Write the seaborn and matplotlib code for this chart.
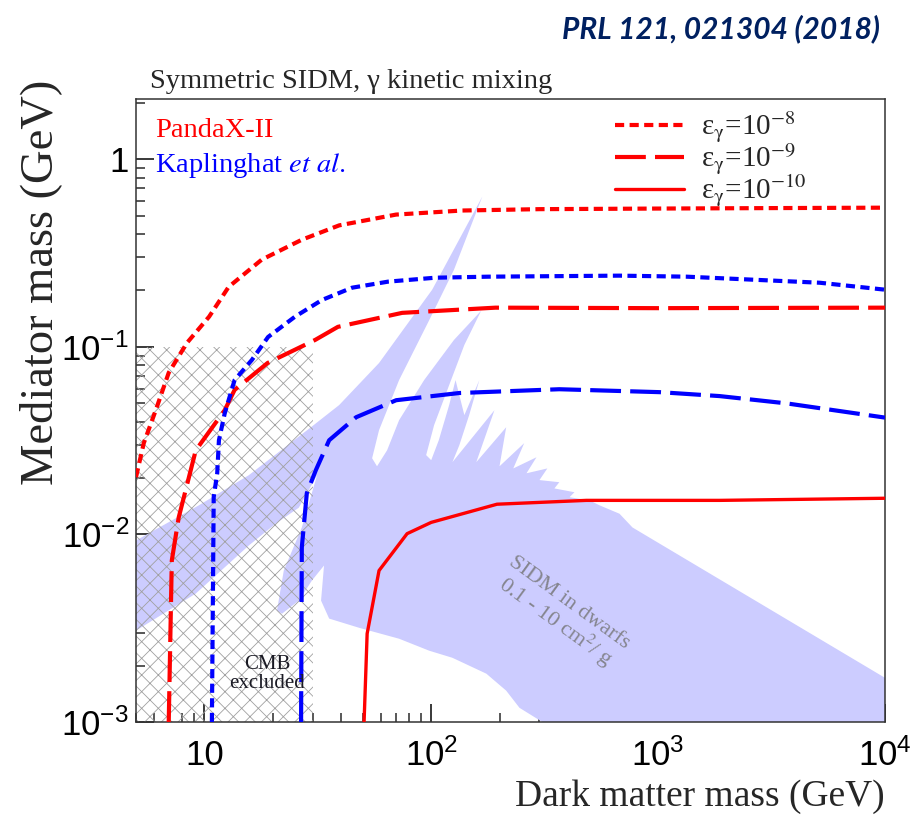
import matplotlib
matplotlib.use("Agg")
import numpy as np
import pandas as pd
import seaborn as sns
import matplotlib.pyplot as plt
from matplotlib.lines import Line2D
from matplotlib.font_manager import FontProperties
from matplotlib.ticker import FixedLocator, FixedFormatter, LogLocator, NullFormatter

# ---- PandaX-II exclusion contours (dark matter mass [GeV], mediator mass [GeV]) ----
panda_eps8_x = [5.0, 5.41, 6.11, 6.97, 8.38, 10.5, 12.8, 17.9, 26.9, 39.3, 70.0, 137, 300, 1000, 3000, 10000]
panda_eps8_y = [0.0202, 0.0307, 0.046, 0.0729, 0.105, 0.145, 0.209, 0.292, 0.373, 0.445, 0.508, 0.534, 0.543, 0.547, 0.550, 0.553]

panda_eps9_x = [6.97, 7.19, 7.71, 9.17, 12.3, 13.6, 19.0, 30.8, 38.8, 74.5, 192, 1000, 10000]
panda_eps9_y = [0.001, 0.00726, 0.0123, 0.0281, 0.0460, 0.0590, 0.0821, 0.109, 0.128, 0.152, 0.162, 0.161, 0.162]

panda_eps10_x = [50.6, 52.2, 58.9, 78.3, 100, 195, 483, 1866, 10000]
panda_eps10_y = [0.001, 0.00296, 0.00642, 0.0101, 0.0116, 0.0145, 0.0152, 0.0152, 0.0156]

# ---- Kaplinghat et al. contours ----
kap_eps8_x = [10.8, 11.0, 11.4, 11.6, 12.3, 13.6, 16.2, 19.1, 25.1, 33.0, 44.8, 64.6, 104, 179, 676, 1337, 5160, 10000]
kap_eps8_y = [0.001, 0.0158, 0.0212, 0.0318, 0.0442, 0.0666, 0.0852, 0.113, 0.145, 0.178, 0.207, 0.223, 0.234, 0.237, 0.240, 0.237, 0.220, 0.202]

kap_eps9_x = [26.7, 26.9, 28.3, 31.0, 35.5, 46.7, 70.1, 133, 367, 1016, 1866, 3690, 10000]
kap_eps9_y = [0.001, 0.00853, 0.0166, 0.0220, 0.0318, 0.0422, 0.0520, 0.0568, 0.0595, 0.0574, 0.0547, 0.0500, 0.042]

# ---- SIDM in dwarfs (0.1 - 10 cm^2/g) allowed region outline ----
dwarf_x = [5.0, 9.46, 15.7, 29.5, 39.3, 58.9, 101, 168, 126, 98.0, 72.2, 58.9, 54.9, 57.7, 63.9,
           72.2, 93.1, 126, 166, 140, 120, 103, 95.0, 100, 108, 120, 128, 140, 163, 147, 133, 124,
           190, 158, 214, 200, 257, 230, 291, 263, 325, 300, 367, 349, 428, 407, 499, 552, 676, 771,
           10000, 10000, 309, 245, 214, 175, 124, 98, 72.2, 48.1, 35.5, 32.7, 33.7, 29.8, 26.1, 22.0,
           20.9, 22.4, 26.9, 31.4, 26.1, 20.7, 15.7, 9.17, 5.0]
dwarf_y = [0.00929, 0.0143, 0.0207, 0.0373, 0.0490, 0.0821, 0.202, 0.634, 0.258, 0.139, 0.0666, 0.0360,
           0.0255, 0.0231, 0.0281, 0.0407, 0.0666, 0.109, 0.156, 0.1025, 0.0626, 0.0383, 0.0265, 0.0249,
           0.0318, 0.0490, 0.0666, 0.0433, 0.0666, 0.0433, 0.0299, 0.0243, 0.0460, 0.0243, 0.0373,
           0.0231, 0.0307, 0.0225, 0.0258, 0.0212, 0.0225, 0.0195, 0.0190, 0.0176, 0.0168, 0.0158,
           0.0152, 0.0143, 0.0129, 0.0109, 0.00172, 0.001, 0.001, 0.00119, 0.00147, 0.00181, 0.00220,
           0.00240, 0.00278, 0.00318, 0.00356, 0.00444, 0.00683, 0.00568, 0.00444, 0.00378, 0.00392,
           0.00642, 0.0109, 0.0207, 0.0139, 0.01145, 0.00873, 0.00484, 0.00307]

# ---- CMB excluded box ----
cmb_x = [5.0, 30.0]
cmb_y = [0.001, 0.1]

# ---- axes ----
x_range = [5.0, 10000.0]
y_range = [0.001, 2.1]
x_ticks = [10, 100, 1000, 10000]
x_tick_labels = ["10", "$10^{2}$", "$10^{3}$", "$10^{4}$"]
y_ticks = [0.001, 0.01, 0.1, 1]
y_tick_labels = ["$10^{-3}$", "$10^{-2}$", "$10^{-1}$", "1"]

eps_levels = ["1e-8", "1e-9", "1e-10"]
eps_labels = [r"ε$_{\mathrm{\gamma}}$=10$^{-8}$", r"ε$_{\mathrm{\gamma}}$=10$^{-9}$",
              r"ε$_{\mathrm{\gamma}}$=10$^{-10}$"]

SERIF = ["Liberation Serif", "DejaVu Serif"]

sns.set_style("ticks")
plt.rcParams.update({
    # tick labels use the sans face; every other text names the serif face
    "font.family": ["Liberation Sans", "DejaVu Sans"],
    "mathtext.fontset": "custom",
    "mathtext.rm": "Liberation Sans",
    "mathtext.it": "Liberation Sans:italic",
    "mathtext.bf": "Liberation Sans:bold",
    "hatch.linewidth": 0.6,
    "axes.linewidth": 1.1,
    "axes.edgecolor": "#333333",
})

fig = plt.figure(figsize=(9.21, 8.16), dpi=100)
ax = fig.add_axes([136 / 921, 94 / 816, 749 / 921, 623 / 816])
ax.set_xscale("log")
ax.set_yscale("log")

# allowed SIDM region
ax.fill(dwarf_x, dwarf_y, color="#ccccff", lw=0, zorder=1)

# CMB excluded hatched box
ax.fill_between(cmb_x, cmb_y[0], cmb_y[1], facecolor="none", edgecolor="#a0a0a0",
                hatch="xx", linewidth=0, zorder=2)

# limit curves
curves = [
    ("PandaX-II", "1e-8", panda_eps8_x, panda_eps8_y),
    ("PandaX-II", "1e-9", panda_eps9_x, panda_eps9_y),
    ("PandaX-II", "1e-10", panda_eps10_x, panda_eps10_y),
    ("Kaplinghat", "1e-8", kap_eps8_x, kap_eps8_y),
    ("Kaplinghat", "1e-9", kap_eps9_x, kap_eps9_y),
]
df = pd.concat([pd.DataFrame({"mass": xs, "mediator": ys, "source": src, "eps": eps})
                for src, eps, xs, ys in curves], ignore_index=True)

dash_map = {"1e-8": (2.2, 1.3), "1e-9": (7.4, 2.2), "1e-10": ""}
width_map = {"1e-8": 3.0, "1e-9": 3.0, "1e-10": 2.4}
sns.lineplot(data=df, x="mass", y="mediator", hue="source", style="eps", size="eps",
             palette={"PandaX-II": "#ff0000", "Kaplinghat": "#0000ff"},
             dashes=dash_map, sizes=width_map, style_order=eps_levels, size_order=eps_levels,
             estimator=None, sort=False, legend=False, ax=ax, zorder=3)

ax.set_xlim(*x_range)
ax.set_ylim(*y_range)
ax.set_xlabel("")
ax.set_ylabel("")

ax.xaxis.set_major_locator(FixedLocator(x_ticks))
ax.xaxis.set_major_formatter(FixedFormatter(x_tick_labels))
ax.yaxis.set_major_locator(FixedLocator(y_ticks))
ax.yaxis.set_major_formatter(FixedFormatter(y_tick_labels))
ax.xaxis.set_minor_locator(LogLocator(base=10, subs=np.arange(2, 10), numticks=20))
ax.yaxis.set_minor_locator(LogLocator(base=10, subs=np.arange(2, 10), numticks=20))
ax.xaxis.set_minor_formatter(NullFormatter())
ax.yaxis.set_minor_formatter(NullFormatter())
ax.tick_params(which="both", direction="in", bottom=True, left=True, top=False,
               right=False, color="#2a2a2a")
ax.tick_params(which="major", length=13, width=1.3, labelsize=25, labelcolor="black")
ax.tick_params(which="minor", length=6.5, width=1.1)
ax.tick_params(axis="x", which="major", pad=12)
ax.tick_params(axis="y", which="major", pad=5)
for s in ax.spines.values():
    s.set_visible(True)

# legend
handles = [Line2D([], [], color="#ff0000", lw=width_map[e],
                  linestyle=("-" if dash_map[e] == "" else (0, dash_map[e])))
           for e in eps_levels]
leg_font = FontProperties(family=SERIF, size=21, math_fontfamily="stix")
ax.legend(handles, eps_labels, prop=leg_font, frameon=False, loc="upper left",
          bbox_to_anchor=(0.6395, 0.983), borderaxespad=0, borderpad=0,
          handlelength=2.35, handletextpad=0.6, labelspacing=-0.12)

# annotations
ax.text(0.0254, 0.950, "PandaX-II", transform=ax.transAxes, color="#ff0000",
        family=SERIF, size=20.5, va="center", ha="left")
ax.text(0.0254, 0.893, r"Kaplinghat $\mathit{et\ al.}$", transform=ax.transAxes,
        color="#0000ff", family=SERIF, size=20.5, va="center", ha="left",
        math_fontfamily="stix")
ax.text(18.9, 0.0018, "CMB\nexcluded", color="#1a1a24", family=SERIF, size=15,
        ha="center", va="center", multialignment="center", linespacing=1.0, zorder=5)
ax.text(375, 0.00378, "SIDM in dwarfs\n0.1 - 10 cm$^{2}$/ g", color="#85858f",
        family=SERIF, size=16, ha="center", va="center", multialignment="center",
        rotation=-36, rotation_mode="anchor", math_fontfamily="stix", linespacing=1.0,
        zorder=5)

# titles and axis labels
fig.text(150 / 921, 1 - 88 / 816, "Symmetric SIDM, γ kinetic mixing", family=SERIF,
         size=20.5, ha="left", va="baseline")
fig.text(880 / 921, 1 - 38 / 816, "PRL 121, 021304 (2018)", family="Lato",
         weight="bold", style="italic", size=21.5, color="#002060", ha="right", va="baseline")
fig.text(885 / 921, 1 - 806 / 816, "Dark matter mass (GeV)", family=SERIF, size=27,
         ha="right", va="baseline")
fig.text(41 / 921, 1 - 80 / 816, "Mediator mass (GeV)", family=SERIF, size=33.5,
         rotation=90, ha="center", va="top")

fig.savefig("out.png", dpi=100)
